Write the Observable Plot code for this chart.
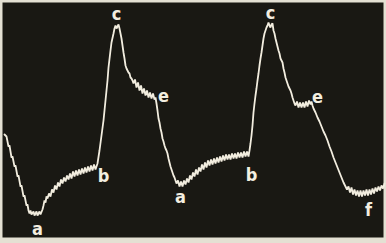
<!DOCTYPE html>
<html>
<head>
<meta charset="utf-8">
<script src="https://cdn.jsdelivr.net/npm/d3@7"></script>
<script src="https://cdn.jsdelivr.net/npm/@observablehq/plot@0.6"></script>
<style>
  html, body { margin: 0; padding: 0; background: #e4e0d3; }
  #chart svg { display: block; }
  #chart svg text { font-stretch: condensed; }
</style>
</head>
<body>
<div id="chart"></div>
<script>
// Trace: time (arbitrary units) and deflection (arbitrary units)
const traceT = [4,6,8,9,11,12,14,15,17,18,20,21,23,24,26,27,28,29,30,31,33,34,36,37,39,40,42,43,44,45,46,47,48.5,50,51.5,53,54.5,56,57.5,59,60.5,62,63.5,65,66.5,68,69.5,71,72.5,74,75.5,77,78.5,80,81.5,83,84.5,86,87.5,89,90.5,92,93.5,95,96,97,99,101,103,105,107,108,110,111,113,114,115,116,117,118,119,120,121,122,123,124,125,126,127,128,129,130,131,132,133,134.5,136,137.5,139,140.5,142,143.5,145,146.5,148,149.5,151,152.5,154,155,156,157,158,159,160,161,162,163,164,165,166,167,168,169,170,171,172,173,174,175,176,177.5,179,180.5,182,183.5,185,186.5,188,189.5,191,192.5,194,195.5,197,198.5,200,201.5,203,204.5,206,207.5,209,210.5,212,213.5,215,216.5,218,219.5,221,222.5,224,225.5,227,228.5,230,231.5,233,234.5,236,237.5,239,240.5,242,243.5,245,246.5,248,249,250,251,252,253,254,255,256,257,258,259,260,261,262,263,264,265,266,267,268,269,270,271,272,273,274,275,276,277,278,279,280,281,282,283,284,285,286,287,288,289,290,291,292,293,294,295,296.5,298,299.5,301,302.5,304,305.5,307,308.5,310,311,312,313,315,317,319,321,323,325,327,329,331,333,335,337,339,341,343,345,346.5,348,349.5,351,352.5,354,355.5,357,358.5,360,361.5,363,364.5,366,367.5,369,370.5,372,373.5,375,376.5,378,379.5,381,382.5,384];
const traceV = [106,104,94,95,83,84,74,75,64,65,54,55,44,45,35,36,30,27,30,26,29,25,29,25,29,26,31,35,40,38,44,42,47,44,51,48,55,51,58,54,61,57,63,59,65,61,67,62,69,64,70,65,71,66,72,67,73,68,74,69,75,70,76,71,74,77,90,105,120,140,160,173,190,198,207,212,215,212,214,216,212,207,202,195,188,182,175,172,170,168,167,163,162,160,157,161,153,158,150,155,147,152,145,150,143,148,142,147,141,143,137,130,122,118,112,108,102,99,95,92,90,87,82,78,74,71,68,65,63,60,57,60,54,59,54,60,56,62,58,65,61,68,64,71,66,73,69,76,71,78,73,80,75,81,76,82,77,83,78,84,79,85,80,86,81,86,81,87,82,87,82,88,83,88,83,89,84,89,84,90,97,105,115,128,137,145,152,160,167,175,182,188,195,202,207,210,213,215,218,215,213,216,217,210,207,202,198,194,190,187,182,180,178,172,168,163,160,157,154,152,150,147,143,140,137,135,139,133,138,133,138,133,139,134,140,136,139,135,132,128,123,119,114,109,105,100,94,89,83,78,73,68,63,58,54,51,54,48,53,46,51,45,50,44,50,44,50,45,51,45,51,46,52,47,53,49,54,50,55,52,57];

// Point labels
const labelText = ["a","b","c","e","a","b","c","e","f"];
const labelT    = [37,103,116,163,180,251,270,317,368];
const labelV    = [11,64,226,144,43,65,227,143,30];

const trace = traceT.map((t, i) => ({t, v: traceV[i]}));
const labels = labelText.map((s, i) => ({s, t: labelT[i], v: labelV[i]}));

const chart = Plot.plot({
  width: 386,
  height: 243,
  margin: 0,
  x: {domain: [0, 386], axis: null},
  y: {domain: [-3, 240], axis: null},
  style: {background: "#e4e0d3", overflow: "visible"},
  marks: [
    Plot.frame({fill: "#191813", stroke: null, insetLeft: 2, insetTop: 2, insetRight: 3, insetBottom: 6}),
    Plot.line(trace, {x: "t", y: "v", stroke: "#f2eddf", strokeWidth: 1.8, strokeLinejoin: "miter", curve: "linear"}),
    Plot.text(labels, {x: "t", y: "v", text: "s", fill: "#f3eee0", fontSize: 18, fontFamily: "'Liberation Sans Narrow', 'DejaVu Sans Condensed', 'DejaVu Sans', sans-serif", fontWeight: "bold"})
  ]
});
document.getElementById("chart").appendChild(chart);
</script>
</body>
</html>
